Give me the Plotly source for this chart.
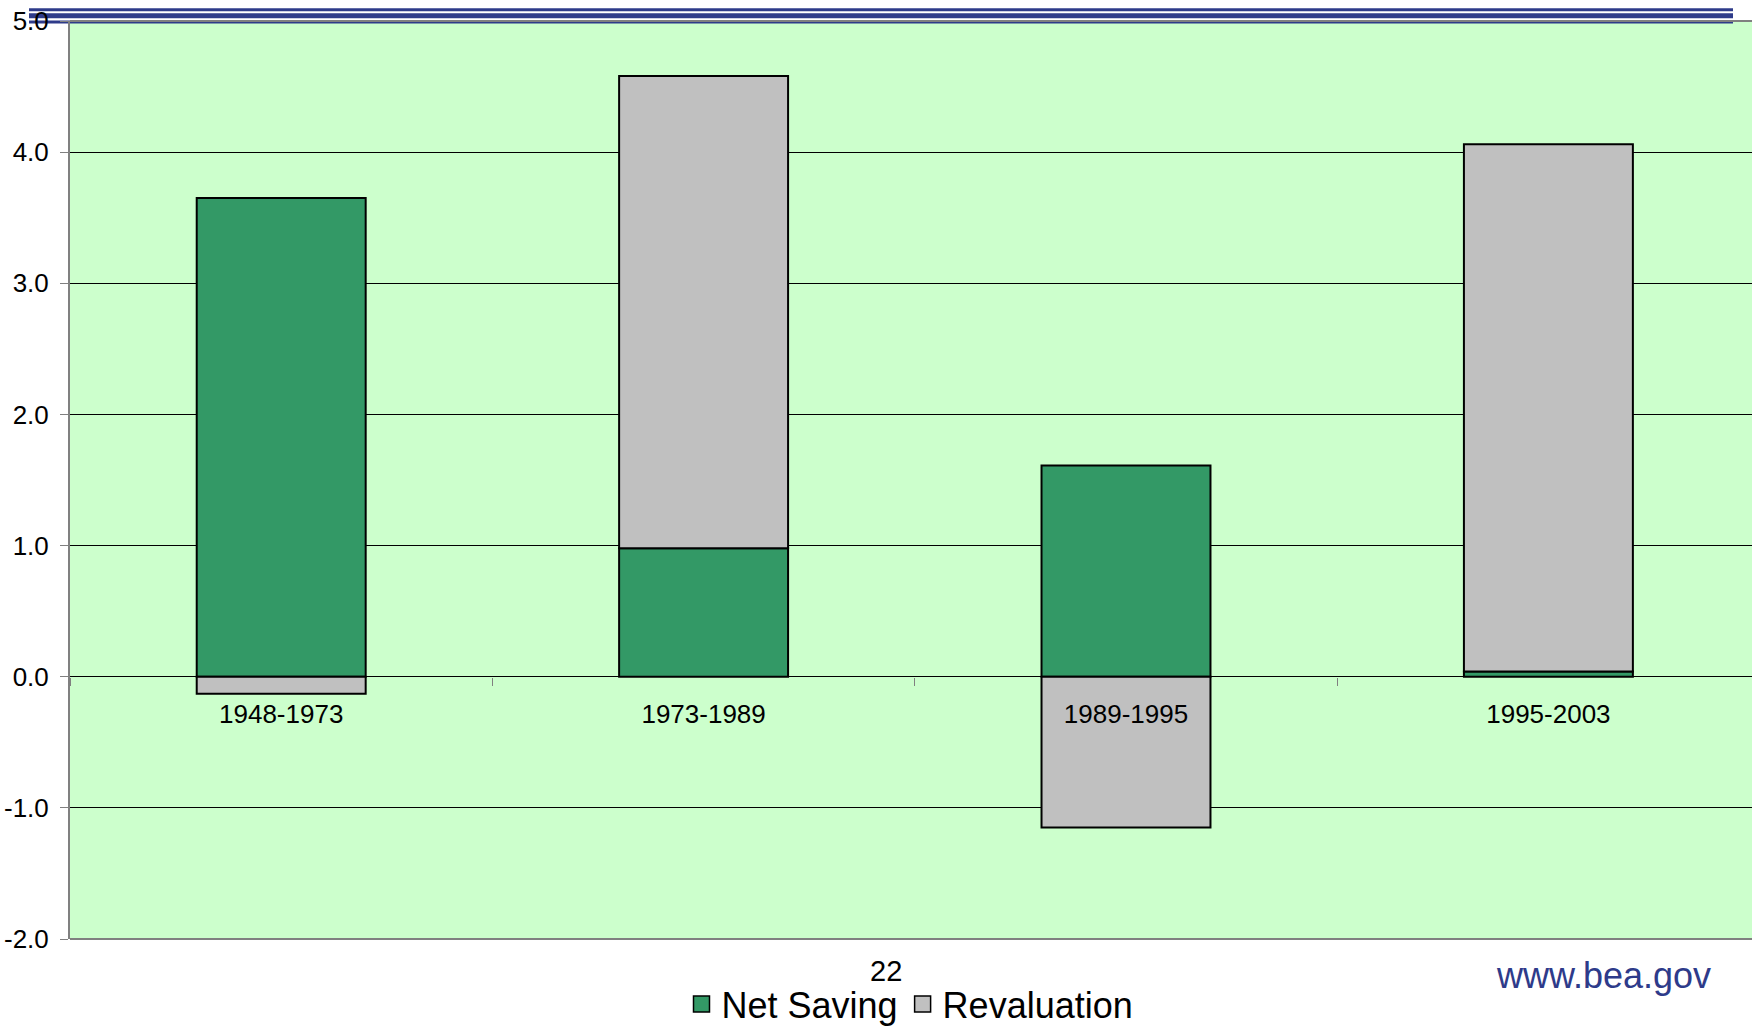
import plotly.graph_objects as go

periods = ["1948-1973", "1973-1989", "1989-1995", "1995-2003"]
net_saving = [3.65, 0.98, 1.61, 0.04]
revaluation = [-0.13, 3.60, -1.15, 4.02]
y_ticks = [-2, -1, 0, 1, 2, 3, 4, 5]
y_tick_labels = ["-2.0", "-1.0", "0.0", "1.0", "2.0", "3.0", "4.0", "5.0"]

FONT = "Liberation Sans, Arial, sans-serif"
GREEN = "#339966"
GRAY = "#C0C0C0"
NAVY = "#2E3B8A"

fig = go.Figure()
fig.add_trace(go.Bar(x=periods, y=net_saving, name="Net Saving", showlegend=False,
                     marker=dict(color=GREEN, line=dict(color="black", width=2))))
fig.add_trace(go.Bar(x=periods, y=revaluation, name="Revaluation", showlegend=False,
                     marker=dict(color=GRAY, line=dict(color="black", width=2))))
# legend entries with larger square swatches
for nm, col in [("Net Saving", GREEN), ("Revaluation", GRAY)]:
    fig.add_trace(go.Scatter(x=[None], y=[None], mode="markers", name=nm,
                             marker=dict(symbol="square", size=20, color=col,
                                         line=dict(color="black", width=1.5))))

W, H = 1752, 1027
ml, mr, mt, mb = 70, 0, 21, 88
pw, ph = W - ml - mr, H - mt - mb

def px_x(p):
    return (p - ml) / pw

def px_y(p):
    return (H - mb - p) / ph

shapes = []
for yc, th in [(9.7, 3), (15.8, 5), (22.0, 3)]:
    shapes.append(dict(type="line", xref="paper", yref="paper",
                       x0=px_x(29), x1=px_x(1733), y0=px_y(yc), y1=px_y(yc),
                       line=dict(color=NAVY, width=th), layer="below"))
shapes.append(dict(type="line", xref="paper", yref="paper", x0=0, x1=1, y0=1, y1=1,
                   line=dict(color="#808080", width=2)))
shapes.append(dict(type="line", xref="paper", yref="paper", x0=0, x1=1, y0=0, y1=0,
                   line=dict(color="#808080", width=2)))

fig.update_layout(
    width=W, height=H,
    margin=dict(l=ml, r=mr, t=mt, b=mb, autoexpand=False),
    paper_bgcolor="white",
    plot_bgcolor="#CCFFCC",
    barmode="relative",
    bargap=0.6,
    font=dict(family=FONT, color="black"),
    showlegend=True,
    legend=dict(orientation="h", x=px_x(910), xanchor="center",
                y=px_y(1004), yanchor="middle",
                font=dict(family=FONT, size=36, color="black"),
                bgcolor="rgba(0,0,0,0)", itemwidth=30, traceorder="normal",
                tracegroupgap=0),
    shapes=shapes,
    annotations=[
        dict(text="22", xref="paper", yref="paper", x=px_x(886), y=px_y(971),
             xanchor="center", yanchor="middle", showarrow=False,
             font=dict(family=FONT, size=29, color="black")),
        dict(text="www.bea.gov", xref="paper", yref="paper", x=px_x(1713), y=px_y(975),
             xanchor="right", yanchor="middle", showarrow=False,
             font=dict(family=FONT, size=36, color=NAVY)),
    ],
)

fig.update_xaxes(
    type="category",
    range=[-0.5, 3.482],
    anchor="free", position=2 / 7,
    showline=False, showgrid=False, zeroline=False,
    ticks="outside", tickson="boundaries", ticklen=8, tickwidth=1, tickcolor="#808080",
    tickfont=dict(family=FONT, size=26, color="black"),
    ticklabelstandoff=19,
)
fig.update_yaxes(
    range=[-2, 5], tickvals=y_ticks, ticktext=y_tick_labels,
    showgrid=True, gridcolor="black", gridwidth=1,
    zeroline=False,
    showline=True, linecolor="#808080", linewidth=2,
    ticks="outside", ticklen=8, tickcolor="#808080", tickwidth=1,
    tickfont=dict(family=FONT, size=26, color="black"),
    ticklabelstandoff=6,
)

fig.write_html("out.html")
